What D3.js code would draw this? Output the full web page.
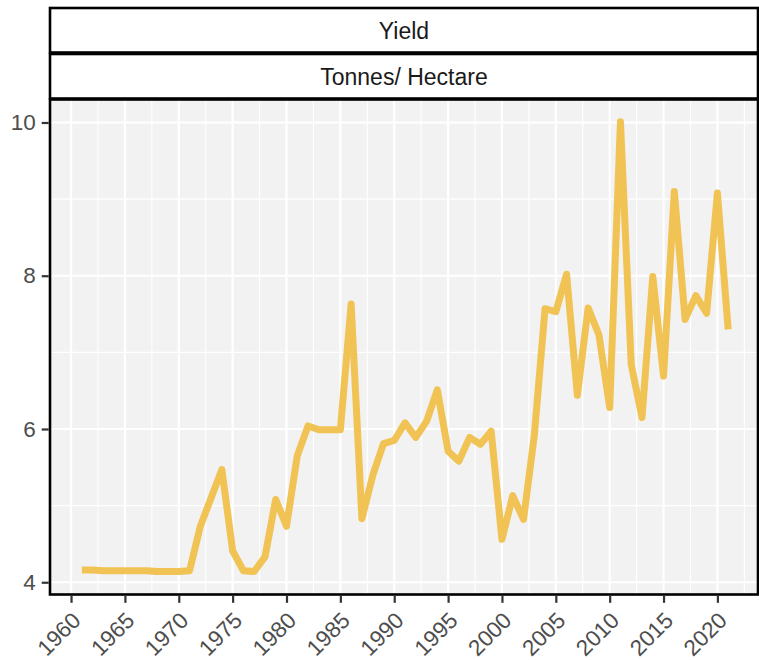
<!DOCTYPE html>
<html>
<head>
<meta charset="utf-8">
<script src="https://cdn.jsdelivr.net/npm/d3@7"></script>
<style>
  body { margin: 0; background: #fff; }
  text { font-family: "Liberation Sans", Arial, sans-serif; }
</style>
</head>
<body>
<div class="chart"></div>
<script>
// data
var years = [1961, 1962, 1963, 1964, 1965, 1966, 1967, 1968, 1969, 1970,
  1971, 1972, 1973, 1974, 1975, 1976, 1977, 1978, 1979, 1980,
  1981, 1982, 1983, 1984, 1985, 1986, 1987, 1988, 1989, 1990,
  1991, 1992, 1993, 1994, 1995, 1996, 1997, 1998, 1999, 2000,
  2001, 2002, 2003, 2004, 2005, 2006, 2007, 2008, 2009, 2010,
  2011, 2012, 2013, 2014, 2015, 2016, 2017, 2018, 2019, 2020, 2021];
var yieldValues = [4.16, 4.16, 4.15, 4.15, 4.15, 4.15, 4.15, 4.14, 4.14, 4.14,
  4.15, 4.73, 5.10, 5.47, 4.41, 4.15, 4.14, 4.33, 5.08, 4.73,
  5.65, 6.04, 5.99, 5.99, 5.99, 7.63, 4.83, 5.39, 5.81, 5.85,
  6.08, 5.89, 6.10, 6.51, 5.71, 5.58, 5.89, 5.80, 5.97, 4.56,
  5.13, 4.82, 5.91, 7.57, 7.53, 8.02, 6.44, 7.58, 7.23, 6.28,
  10.01, 6.84, 6.15, 7.99, 6.69, 9.10, 7.43, 7.74, 7.51, 9.08, 7.30];
var xTicks = [1960, 1965, 1970, 1975, 1980, 1985, 1990, 1995, 2000, 2005, 2010, 2015, 2020];
var xMinor = [1962.5, 1967.5, 1972.5, 1977.5, 1982.5, 1987.5, 1992.5, 1997.5, 2002.5, 2007.5, 2012.5, 2017.5, 2022.5];
var yTicks = [4, 6, 8, 10];
var yMinor = [5, 7, 9];
var stripLabels = ["Yield", "Tonnes/ Hectare"];

var svgWidth = 759;
var svgHeight = 660;

var panel = { left: 50, right: 758, top: 99.5, bottom: 594.5 };

var svg = d3.select(".chart")
  .append("svg")
  .attr("width", svgWidth)
  .attr("height", svgHeight);

var data = years.map(function(y, i) { return { year: y, value: yieldValues[i] }; });

var x = d3.scaleLinear()
  .domain([1958, 2024])
  .range([49.5, 760.5]);

var y = d3.scaleLinear()
  .domain([3.84, 10.3])
  .range([panel.bottom, panel.top]);

// panel background
svg.append("rect")
  .attr("x", panel.left)
  .attr("y", panel.top)
  .attr("width", panel.right - panel.left)
  .attr("height", panel.bottom - panel.top)
  .attr("fill", "#f2f2f2");

var grid = svg.append("g");

grid.selectAll(".ymin")
  .data(yMinor)
  .enter()
  .append("line")
  .attr("x1", panel.left).attr("x2", panel.right)
  .attr("y1", d => y(d)).attr("y2", d => y(d))
  .attr("stroke", "#fff").attr("stroke-width", 1.1);

grid.selectAll(".xmin")
  .data(xMinor)
  .enter()
  .append("line")
  .attr("y1", panel.top).attr("y2", panel.bottom)
  .attr("x1", d => x(d)).attr("x2", d => x(d))
  .attr("stroke", "#fff").attr("stroke-width", 1.1);

grid.selectAll(".ymaj")
  .data(yTicks)
  .enter()
  .append("line")
  .attr("x1", panel.left).attr("x2", panel.right)
  .attr("y1", d => y(d)).attr("y2", d => y(d))
  .attr("stroke", "#fff").attr("stroke-width", 2.2);

grid.selectAll(".xmaj")
  .data(xTicks)
  .enter()
  .append("line")
  .attr("y1", panel.top).attr("y2", panel.bottom)
  .attr("x1", d => x(d)).attr("x2", d => x(d))
  .attr("stroke", "#fff").attr("stroke-width", 2.2);

// the line
var line = d3.line()
  .x(d => x(d.year))
  .y(d => y(d.value));

svg.append("path")
  .datum(data)
  .attr("d", line)
  .attr("fill", "none")
  .attr("stroke", "#f0c354")
  .attr("stroke-width", 7)
  .attr("stroke-linejoin", "round")
  .attr("stroke-linecap", "butt");

// panel border
svg.append("rect")
  .attr("x", panel.left)
  .attr("y", panel.top)
  .attr("width", panel.right - panel.left)
  .attr("height", panel.bottom - panel.top)
  .attr("fill", "none")
  .attr("stroke", "#000")
  .attr("stroke-width", 2.6);

// strips
var strips = [{ top: 8, bottom: 52.5 }, { top: 54, bottom: 98.5 }];
strips.forEach(function(s, i) {
  svg.append("rect")
    .attr("x", panel.left)
    .attr("y", s.top)
    .attr("width", panel.right - panel.left)
    .attr("height", s.bottom - s.top)
    .attr("fill", "#fff")
    .attr("stroke", "#000")
    .attr("stroke-width", 2.6);
  svg.append("text")
    .attr("x", (panel.left + panel.right) / 2)
    .attr("y", (s.top + s.bottom) / 2)
    .attr("dy", "0.36em")
    .attr("text-anchor", "middle")
    .attr("font-size", 23)
    .attr("fill", "#1a1a1a")
    .text(stripLabels[i]);
});

// y axis
var leftAxis = d3.axisLeft(y)
  .tickValues(yTicks)
  .tickSize(7)
  .tickPadding(6)
  .tickFormat(d3.format("d"));

var yAxis = svg.append("g")
  .attr("transform", `translate(${panel.left - 1.3}, 0)`)
  .call(leftAxis);
yAxis.select(".domain").remove();
yAxis.selectAll(".tick line").attr("stroke", "#333").attr("stroke-width", 2.2);
yAxis.selectAll(".tick text")
  .attr("font-size", 22.5)
  .attr("fill", "#4d4d4d")
  .attr("font-family", "Liberation Sans, Arial, sans-serif");

// x axis
var bottomAxis = d3.axisBottom(x)
  .tickValues(xTicks)
  .tickSize(7)
  .tickFormat(d3.format("d"));

var xAxis = svg.append("g")
  .attr("transform", `translate(0, ${panel.bottom + 1.3})`)
  .call(bottomAxis);
xAxis.select(".domain").remove();
xAxis.selectAll(".tick line").attr("stroke", "#333").attr("stroke-width", 2.2);
xAxis.selectAll(".tick text")
  .attr("font-size", 22.5)
  .attr("fill", "#4d4d4d")
  .attr("font-family", "Liberation Sans, Arial, sans-serif")
  .attr("text-anchor", "end")
  .attr("dy", null)
  .attr("y", null)
  .attr("transform", "translate(10.5, 26) rotate(-45)");
</script>
</body>
</html>
